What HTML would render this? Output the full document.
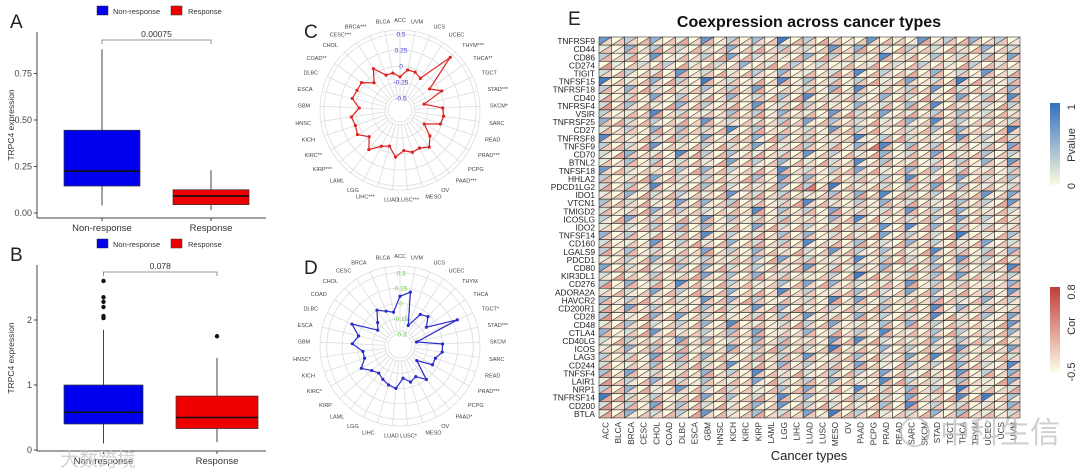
<!DOCTYPE html>
<html><head><meta charset="utf-8"><style>
html,body{margin:0;padding:0;background:#fff;}
svg{display:block;font-family:"Liberation Sans","Noto Sans CJK SC",sans-serif;}
</style></head><body>
<svg id="fig" width="1080" height="469" viewBox="0 0 1080 469" xmlns="http://www.w3.org/2000/svg">
<rect width="1080" height="469" fill="#fff"/>
<g id="pA"></g>
<g id="pB"></g>
<g id="pC"></g>
<g id="pD"></g>
<g id="pE"></g>
<text x="60" y="466" font-size="19" fill="#ccc" opacity="0.85">大数跨境</text>
<text x="940" y="443" font-size="30" fill="#bbb" opacity="0.7">中科生信</text>
<circle cx="915" cy="432" r="14" fill="none" stroke="#bbb" stroke-width="2" opacity="0.7"/>
</svg>
<script>
const NS="http://www.w3.org/2000/svg";
function mk(p,tag,a,txt){const e=document.createElementNS(NS,tag);for(const k in a)e.setAttribute(k,a[k]);if(txt!==undefined)e.textContent=txt;p.appendChild(e);return e;}

// ---- Box plot data ----
const boxGroups=["Non-response","Response"];
const boxA_q=[[0.04,0.145,0.225,0.445,0.88],[0.015,0.045,0.092,0.125,0.23]];
const boxA_out=[[],[]];
const boxA_ticks=[0,0.25,0.5,0.75];
const boxA_tickLabels=["0.00","0.25","0.50","0.75"];
const boxA_p="0.00075";
const boxB_q=[[0.1,0.4,0.58,1.0,1.85],[0.12,0.33,0.5,0.83,1.42]];
const boxB_out=[[2.03,2.06,2.2,2.28,2.35,2.6],[1.75]];
const boxB_ticks=[0,1,2];
const boxB_tickLabels=["0","1","2"];
const boxB_p="0.078";

function boxPanel(g,letter,legY,top,bottom,y0,ppu,q,outs,ticks,tl,p,brY,boxes){
  const lg=mk(g,'g',{});
  
  const r1=mk(lg,'rect',{x:97,y:legY-5,width:11,height:9,fill:'#0000ee',stroke:'#333','stroke-width':0.5});
  
  mk(lg,'text',{x:113,y:legY+3,'font-size':7.5,fill:'#333'},'Non-response');
  const r2=mk(lg,'rect',{x:171,y:legY-5,width:11,height:9,fill:'#ee0000',stroke:'#333','stroke-width':0.5});
  
  mk(lg,'text',{x:188,y:legY+3,'font-size':7.5,fill:'#333'},'Response');
  const L=mk(g,'text',{x:10,y:top-4,'font-size':19,fill:'#222'},letter);
  
  const Y=v=>y0-v*ppu;
  mk(g,'line',{x1:37,y1:top,x2:37,y2:bottom,stroke:'#444','stroke-width':1});
  mk(g,'line',{x1:37,y1:bottom,x2:266,y2:bottom,stroke:'#444','stroke-width':1});
  ticks.forEach((t,i)=>{
    mk(g,'line',{x1:34,y1:Y(t),x2:37,y2:Y(t),stroke:'#444'});
    const tx=mk(g,'text',{x:32,y:Y(t)+3,'font-size':9,'text-anchor':'end',fill:'#444'},tl[i]);
    
  });
  const yt=mk(g,'text',{x:0,y:0,'font-size':8.5,'text-anchor':'middle',fill:'#333',transform:`translate(14,${(top+bottom)/2}) rotate(-90)`},'TRPC4 expression');
  
  const colors=['#0000ee','#ee0000'];
  boxGroups.forEach((name,i)=>{
    const [x0,x1]=boxes[i];const cx=(x0+x1)/2;const s=q[i];
    const bg=mk(g,'g',{});
    
    mk(bg,'line',{x1:cx,y1:Y(s[0]),x2:cx,y2:Y(s[4]),stroke:'#444','stroke-width':1});
    mk(bg,'rect',{x:x0,y:Y(s[3]),width:x1-x0,height:Y(s[1])-Y(s[3]),fill:colors[i],stroke:'#333','stroke-width':0.7});
    mk(bg,'line',{x1:x0,y1:Y(s[2]),x2:x1,y2:Y(s[2]),stroke:'#111','stroke-width':1.6});
    outs[i].forEach(o=>mk(bg,'circle',{cx:cx,cy:Y(o),r:2.2,fill:'#111'}));
    mk(g,'line',{x1:cx,y1:bottom,x2:cx,y2:bottom+3,stroke:'#444'});
    const xl=mk(g,'text',{x:cx,y:bottom+13,'font-size':9.5,'text-anchor':'middle',fill:'#333'},name);
    
  });
  const c0=(boxes[0][0]+boxes[0][1])/2,c1=(boxes[1][0]+boxes[1][1])/2;
  const br=mk(g,'path',{d:`M${c0},${brY+4}V${brY}H${c1}V${brY+4}`,fill:'none',stroke:'#777','stroke-width':0.8});
  
  const pt=mk(g,'text',{x:(c0+c1)/2,y:brY-3,'font-size':8.5,'text-anchor':'middle',fill:'#333'},p);
  
}
boxPanel(document.getElementById('pA'),'A',11,32,218,213,186,boxA_q,boxA_out,boxA_ticks,boxA_tickLabels,boxA_p,40,[[64,140],[173,249]]);
boxPanel(document.getElementById('pB'),'B',244,265,451,450,65,boxB_q,boxB_out,boxB_ticks,boxB_tickLabels,boxB_p,272,[[64,143],[176,258]]);

// ---- Radar data ----
const cancers=["ACC","BLCA","BRCA","CESC","CHOL","COAD","DLBC","ESCA","GBM","HNSC","KICH","KIRC","KIRP","LAML","LGG","LIHC","LUAD","LUSC","MESO","OV","PAAD","PCPG","PRAD","READ","SARC","SKCM","STAD","TGCT","THCA","THYM","UCEC","UCS","UVM"];
const starsC=["","","***","***","","**","","","","","","**","***","","","***","","***","","","***","","***","","","*","***","","**","***","","",""];
const starsD=["","","","","","","","","","*","","*","","","","","","*","","","*","","***","","","","***","*","","","","",""];
const radarC=[-0.17,-0.1,-0.1,0.08,-0.1,0.05,0.05,0.08,-0.05,0.08,0.05,0.08,-0.05,0.1,-0.05,-0.1,0.05,-0.05,0.0,-0.02,0.05,-0.07,-0.25,-0.02,0.0,-0.02,-0.3,0.03,-0.12,0.45,-0.1,-0.05,-0.05];
const radarD=[0.07,-0.08,-0.05,0.0,-0.1,-0.15,0.1,0.0,0.05,-0.05,-0.05,0.02,-0.05,-0.08,-0.05,-0.02,0.0,-0.1,-0.05,-0.08,0.0,-0.2,-0.05,-0.05,0.0,0.0,-0.25,0.2,-0.1,-0.02,-0.05,-0.2,0.12];
const ticksC=[-0.5,-0.25,0,0.25,0.5];
const ticksCLabels=["-0.5","-0.25","0","0.25","0.5"];
const ticksD=[-0.3,-0.15,0,0.15,0.3];
const ticksDLabels=["-0.3","-0.15","0","0.15","0.3"];

function radar(g,letter,cx,cy,rfn,vals,stars,ticks,tl,col,tcol){
  const L=mk(g,'text',{x:cx-96,y:cy-72,'font-size':19,fill:'#222'},letter);
  
  const n=cancers.length;
  const ang=i=>-Math.PI/2-i*2*Math.PI/n;
  const grid=mk(g,'g',{});
  
  [15].concat(ticks.map(rfn)).concat([80]).forEach(r=>mk(grid,'circle',{cx,cy,r,fill:'none',stroke:'#ddd','stroke-width':0.8}));
  for(let i=0;i<n;i++){const a=ang(i);mk(grid,'line',{x1:cx+15*Math.cos(a),y1:cy+15*Math.sin(a),x2:cx+80*Math.cos(a),y2:cy+80*Math.sin(a),stroke:'#ddd','stroke-width':0.8});}
  ticks.forEach((t,i)=>{const tx=mk(g,'text',{x:cx+1,y:cy-rfn(t)+2.5,'font-size':6.5,fill:tcol,'text-anchor':'middle'},tl[i]);
    });
  const pts=vals.map((v,i)=>{const a=ang(i),r=rfn(v);return [cx+r*Math.cos(a),cy+r*Math.sin(a)];});
  const pl=mk(g,'polygon',{points:pts.map(p=>p.join(',')).join(' '),fill:'none',stroke:col,'stroke-width':1.2});
  
  pts.forEach((p,i)=>{const c=mk(g,'circle',{cx:p[0],cy:p[1],r:1.6,fill:col});
    });
  cancers.forEach((c,i)=>{const a=ang(i);const x=cx+90*Math.cos(a),y=cy+90*Math.sin(a);
    const anc=Math.abs(Math.cos(a))<0.2?'middle':(Math.cos(a)>0?'start':'end');
    const t=mk(g,'text',{x:x,y:y+2,'font-size':5.5,fill:'#444','text-anchor':anc},c+stars[i]);
    });
}
radar(document.getElementById('pC'),'C',400,110,v=>12+(v+0.5)*64,radarC,starsC,ticksC,ticksCLabels,'#dd2222','#3a3ad0');
radar(document.getElementById('pD'),'D',400,346,v=>12+(v+0.3)*102,radarD,starsD,ticksD,ticksDLabels,'#2b2bcc','#66cc44');

// ---- Heatmap data ----
const genes=["TNFRSF9","CD44","CD86","CD274","TIGIT","TNFSF15","TNFRSF18","CD40","TNFRSF4","VSIR","TNFRSF25","CD27","TNFRSF8","TNFSF9","CD70","BTNL2","TNFSF18","HHLA2","PDCD1LG2","IDO1","VTCN1","TMIGD2","ICOSLG","IDO2","TNFSF14","CD160","LGALS9","PDCD1","CD80","KIR3DL1","CD276","ADORA2A","HAVCR2","CD200R1","CD28","CD48","CTLA4","CD40LG","ICOS","LAG3","CD244","TNFSF4","LAIR1","NRP1","TNFRSF14","CD200","BTLA"];
const pvalRows=["703050107030409030100701070305030","105030201050103020705010302010502","302070103060201050302080104020306","010203010205010302010102030103010","203010702010305010208030105020701","901050309020108040203010602090103","305020104030601020508010307020105","102060301050204080103050201060308","204010503010702030105020408010203","301080201040305010702060103040201","502030107020103060402010508030102","103050402080301020703010204050109","801020306010504020108030201070302","302070103020601030205080403010206","205010803040102070301050206010403","104030201060305010208040102030507","702010405030108020306010504020103","301060203010407050102030801060204","203080104020105030901020306040102","105020301070203010405080203010706","402010605030102080103050201040307","201050302010804030601020703050102","306020107040203010508010204060301","102030405010602030102070805030201","503010208030104050201060302090104","201070301050203080104020503010602","304020106030501020703040108020305","103050203010406020108030205070301","602010405020301070203050104030208","201030106040502010309010204060103","305020801030104060502010703020105","102060302050108030104020605010307","403010207050301020806030104020503","206030104020705010302040108050201","301050603010204070105030208010406","104020305080102030601040503020107","502070103040601050203080104030205","203010604020503010708020105040301","105030201060304020901050302070106","302060405010203070104020608030102","201040302070105030206010403050208","406020105030801020403060201070305","103050204010602030501080302040106","305010703020104060108020503090102","902030106040208050103020601080904","203060402010507030201040803020105","105020307010402060903010205040102"];
const corRows=["232413524132231425313243152342231","314253142313524213425314231524132","425131423524131425231342513241523","613241524231354213142531423152432","241352413524213142531423524131425","132425314231524132413524213425314","413524231342513241523142431524132","524131425231342513241324152341524","632415241352413524213142531423152","214352413242513241352413524231342","352413524213425314231524132413524","423152432413524231342513241523142","231425313243152342231245231342152","342513241523142432513841524131425","153241352413524213142531423524131","324152341524131425231342513241324","241324152413524231342513241352413","413524213425314231524132425314231","524231342513241583142431524132413","231524132413524213425314231524132","342513241352413524213142531423152","413524231342513241523142432513241","152341524131425231342513241324152","231342513241352413524213142531423","324152432413524231342513241523142","413241352413524213425314231524132","524131425231342513241324152341524","231425313243152342231245231342152","342513241523142432513241524131425","153241352413524213142531423524131","614152341524131425231342513241324","241324152413524231342513241352413","413524213425314231524132425314231","524231342513241523142431524132413","631524132413524213425314231524132","342513241352413524213142531423152","413524231342513241523142432513241","152341524131425231342513241324152","231342513241352413524213142531423","324152432413524231342513241523142","413241352413524213425314231524132","524131425231342513241324152341524","631425313243152342231245231342152","442513241523142432513241524131425","553241352413524213142531423524131","624152341524131425231342513241324","541324152413524231342513241352413"];

(function(){
  const g=document.getElementById('pE');
  const L=mk(g,'text',{x:568,y:25,'font-size':19,fill:'#222'},'E');
  
  const T=mk(g,'text',{x:809,y:27,'font-size':16,'font-weight':'bold','text-anchor':'middle',fill:'#111'},'Coexpression across cancer types');
  
  const x0=599,x1=1020,y0=37,y1=418;
  const cw=(x1-x0)/cancers.length,ch=(y1-y0)/genes.length;
  const mix=(a,b,t)=>'rgb('+a.map((v,i)=>Math.round(v+(b[i]-v)*t)).join(',')+')';
  const cream=[252,250,224],blue=[58,118,192],red=[200,80,76],creamR=[252,246,228];
  const cells=mk(g,'g',{});
  
  genes.forEach((gn,r)=>{
    const y=y0+r*ch;
    const t=mk(g,'text',{x:595,y:y+ch/2+3,'font-size':8.4,'text-anchor':'end',fill:'#222'},gn);
    
    for(let c=0;c<cancers.length;c++){
      const x=x0+c*cw;
      const pv=+((pvalRows[r]||'')[c]||0)/9, cv=+((corRows[r]||'')[c]||0)/8;
      const up=mk(cells,'polygon',{points:`${x},${y} ${x+cw},${y} ${x},${y+ch}`,fill:mix(cream,blue,pv*0.95)});
      
      const lo=mk(cells,'polygon',{points:`${x+cw},${y} ${x+cw},${y+ch} ${x},${y+ch}`,fill:mix(creamR,red,cv*0.75)});
      
      mk(cells,'rect',{x,y,width:cw,height:ch,fill:'none',stroke:'#222','stroke-width':0.55});
      mk(cells,'line',{x1:x,y1:y+ch,x2:x+cw,y2:y,stroke:'#333','stroke-width':0.55});
    }
  });
  cancers.forEach((c,i)=>{
    const x=x0+(i+0.5)*cw;
    const t=mk(g,'text',{x:0,y:0,'font-size':8.2,'text-anchor':'end',fill:'#333',transform:`translate(${x+3},${y1+4}) rotate(-90)`},c);
    
  });
  const xt=mk(g,'text',{x:809,y:460,'font-size':13,'text-anchor':'middle',fill:'#222'},'Cancer types');
  
  const defs=mk(g,'defs',{});
  const gb=mk(defs,'linearGradient',{id:'gp',x1:0,y1:1,x2:0,y2:0});
  mk(gb,'stop',{offset:0,'stop-color':'#fcfae0'});mk(gb,'stop',{offset:1,'stop-color':'#3470be'});
  const gr=mk(defs,'linearGradient',{id:'gc',x1:0,y1:1,x2:0,y2:0});
  mk(gr,'stop',{offset:0,'stop-color':'#fdfbe8'});mk(gr,'stop',{offset:1,'stop-color':'#c03e3a'});
  const lp=mk(g,'g',{});
  mk(lp,'rect',{x:1050,y:103,width:10,height:82,fill:'url(#gp)'});
  mk(lp,'text',{x:0,y:0,'font-size':11,fill:'#333','text-anchor':'middle',transform:'translate(1075,107) rotate(-90)'},'1');
  mk(lp,'text',{x:0,y:0,'font-size':11,fill:'#333','text-anchor':'middle',transform:'translate(1075,186) rotate(-90)'},'0');
  mk(lp,'text',{x:0,y:0,'font-size':11,fill:'#333','text-anchor':'middle',transform:'translate(1075,145) rotate(-90)'},'Pvalue');
  const lc=mk(g,'g',{});
  mk(lc,'rect',{x:1050,y:287,width:10,height:85,fill:'url(#gc)'});
  mk(lc,'text',{x:0,y:0,'font-size':11,fill:'#333','text-anchor':'middle',transform:'translate(1075,292) rotate(-90)'},'0.8');
  mk(lc,'text',{x:0,y:0,'font-size':11,fill:'#333','text-anchor':'middle',transform:'translate(1075,326) rotate(-90)'},'Cor');
  mk(lc,'text',{x:0,y:0,'font-size':11,fill:'#333','text-anchor':'middle',transform:'translate(1075,372) rotate(-90)'},'-0.5');
})();
</script>
</body></html>
